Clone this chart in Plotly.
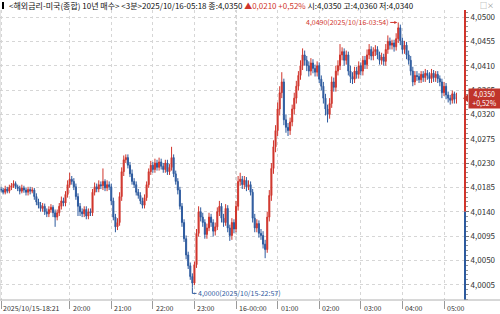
import plotly.graph_objects as go
import pandas as pd

# ---- data (3-minute bars, values in units of 0.0001 above 4.0000) ----
opens = [182,180,176,182,178,185,188,192,186,183,
         178,184,180,176,181,178,180,168,158,152,
         146,150,140,136,144,148,138,130,138,150,
         160,156,172,190,200,196,186,168,150,140,
         136,144,132,140,138,176,186,182,190,188,
         196,184,190,186,160,130,112,120,168,214,
         236,240,226,210,196,190,176,170,160,152,
         166,190,214,226,218,230,222,232,224,218,
         230,214,222,240,210,196,180,150,120,90,
         60,40,20,8,42,100,140,130,120,98,
         110,130,120,104,112,140,150,128,120,146,
         110,96,120,108,150,196,200,190,198,186,
         190,176,128,110,118,100,96,80,70,130,
         170,220,260,290,330,360,380,310,296,290,
         306,330,350,372,392,410,430,420,410,400,
         415,405,398,410,385,372,350,330,320,340,
         380,370,400,410,430,436,420,430,400,390,
         385,400,394,410,400,420,412,430,440,428,
         436,440,430,420,426,418,440,455,448,452,
         445,460,480,456,440,448,430,420,400,380,
         392,390,384,394,388,396,392,386,396,388,
         394,386,380,360,372,356,350,346,358,350]
highs = [186,184,188,186,190,193,198,196,190,188,
         190,188,184,186,186,185,184,174,164,158,
         156,155,146,150,154,152,144,144,156,168,
         166,178,198,212,206,202,192,174,156,146,
         150,150,146,146,182,194,192,198,196,220,
         200,198,196,192,166,136,128,176,222,244,
         246,246,232,218,202,196,182,176,166,172,
         196,220,234,232,238,236,240,238,230,236,
         236,228,260,246,216,202,186,156,126,96,
         66,46,26,48,108,150,148,138,126,118,
         138,136,126,120,148,160,156,136,154,152,
         116,128,126,160,206,212,206,206,204,198,
         196,182,136,126,124,108,104,88,140,180,
         230,272,300,342,372,398,386,320,304,314,
         338,360,382,400,420,442,438,428,418,424,
         422,412,418,416,392,380,358,338,350,390,
         388,410,420,450,444,442,438,436,410,398,
         408,408,418,416,428,428,440,450,446,444,
         448,446,436,434,432,450,466,462,458,458,
         470,490,486,462,456,454,438,428,408,400,
         400,396,400,400,404,402,398,404,402,400,
         400,392,386,380,378,362,356,364,362,360]
lows = [176,172,172,174,174,180,184,182,178,172,
        174,175,170,170,172,174,162,152,146,140,
        140,134,130,130,138,130,112,124,132,144,
        150,150,166,184,190,180,162,132,132,130,
        130,126,126,132,132,170,176,176,182,180,
        178,178,180,152,124,102,106,114,160,206,
        230,220,204,190,184,170,164,154,146,146,
        160,184,208,212,212,216,216,218,212,212,
        208,208,216,204,190,172,144,112,84,52,
        34,14,0,4,36,94,122,112,90,90,
        104,112,94,96,106,132,120,112,114,102,
        86,88,100,102,142,188,182,182,178,180,
        170,120,102,102,92,88,72,54,64,122,
        160,210,250,280,318,350,300,286,280,282,
        298,320,340,364,384,402,410,400,390,392,
        396,390,390,378,364,340,318,305,312,332,
        362,362,392,402,420,410,412,392,378,376,
        378,386,386,392,392,404,404,422,420,420,
        428,422,412,412,410,410,432,440,440,436,
        438,452,448,432,432,422,412,392,372,374,
        382,378,378,380,380,384,378,378,380,380,
        378,372,350,354,348,342,338,340,340,340]
closes = [180,176,182,178,185,188,192,186,183,178,
          184,180,176,181,178,180,168,158,152,146,
          150,140,136,144,148,138,130,138,150,160,
          156,172,190,200,196,186,168,150,140,136,
          144,132,140,138,176,186,182,190,188,196,
          184,190,186,160,130,112,120,168,214,236,
          240,226,210,196,190,176,170,160,152,166,
          190,214,226,218,230,222,232,224,218,230,
          214,222,240,210,196,180,150,120,90,60,
          40,20,8,42,100,140,130,120,98,110,
          130,120,104,112,140,150,128,120,146,110,
          96,120,108,150,196,200,190,198,186,190,
          176,128,110,118,100,96,80,70,130,170,
          220,260,290,330,360,380,310,296,290,306,
          330,350,372,392,410,430,420,410,400,415,
          405,398,410,385,372,350,330,320,340,380,
          370,400,410,430,436,420,430,400,390,385,
          400,394,410,400,420,412,430,440,428,436,
          440,430,420,426,418,440,455,448,452,445,
          460,480,456,440,448,430,420,400,380,392,
          390,384,394,388,396,392,386,396,388,394,
          386,380,360,372,356,350,346,358,348,350]

base_price = 4.0
pip = 0.0001
prev_close = 4.0140
start_time = "2025-10-15 18:21"
bar_freq = "3min"
ytick_values = [4.0005, 4.0050, 4.0095, 4.0140, 4.0185, 4.0230, 4.0275,
                4.0320, 4.0365, 4.0410, 4.0455, 4.0500]
x_tick_times = ["2025-10-15 18:21", "2025-10-15 20:00", "2025-10-15 21:00",
                "2025-10-15 22:00", "2025-10-15 23:00", "2025-10-16 00:00",
                "2025-10-16 01:00", "2025-10-16 02:00", "2025-10-16 03:00",
                "2025-10-16 04:00", "2025-10-16 05:00"]
x_tick_labels = ["2025/10/15-18:21", "20:00", "21:00", "22:00", "23:00",
                 "16-00:00", "01:00", "02:00", "03:00", "04:00", "05:00"]
title_name = "<해외금리-미국(종합) 10년 매수> <3분>"

n = len(closes)
assert len(opens) == n and len(highs) == n and len(lows) == n
O = [base_price + v * pip for v in opens]
H = [base_price + v * pip for v in highs]
L = [base_price + v * pip for v in lows]
C = [base_price + v * pip for v in closes]
times = pd.date_range(start_time, periods=n, freq=bar_freq)
idx = list(range(n))
time_to_idx = {t: i for i, t in enumerate(times)}

RED = "#d0352c"
BLUE = "#2d5a9e"
FONT = "Noto Sans CJK KR"

def fmt(v):
    return f"{v:.4f}".replace(".", ",")

fig = go.Figure()
fig.add_trace(go.Candlestick(
    x=idx, open=O, high=H, low=L, close=C,
    increasing=dict(line=dict(color=RED, width=1), fillcolor=RED),
    decreasing=dict(line=dict(color=BLUE, width=1), fillcolor=BLUE),
    whiskerwidth=0, showlegend=False, hoverinfo="skip"))

tick_pos = [time_to_idx[pd.Timestamp(t)] for t in x_tick_times]

y_lo, y_hi = 3.99767, 4.0513
x_lo, x_hi = -0.5, 223.1

shapes = []
mid_i = time_to_idx[pd.Timestamp("2025-10-16 00:00")]
shapes.append(dict(type="line", xref="x", yref="paper", x0=mid_i, x1=mid_i, y0=0, y1=1,
                   line=dict(color="#a8a8a8", width=1, dash="dot"), layer="below"))
shapes.append(dict(type="line", xref="paper", yref="y", x0=1, x1=1, y0=prev_close, y1=y_hi,
                   line=dict(color=RED, width=2)))
shapes.append(dict(type="line", xref="paper", yref="y", x0=1, x1=1, y0=y_lo, y1=prev_close,
                   line=dict(color=BLUE, width=2)))
shapes.append(dict(type="line", xref="paper", yref="paper", x0=0, x1=500/465, y0=0, y1=0,
                   line=dict(color="#b0b0b0", width=1)))
shapes.append(dict(type="line", xref="paper", yref="paper", x0=0, x1=0, y0=0, y1=1,
                   line=dict(color="#c8c8c8", width=1)))
shapes.append(dict(type="rect", xref="paper", yref="paper", x0=2/465, x1=4/465,
                   y0=1 + 1/290, y1=1 + 8/290, line=dict(width=0), fillcolor="#000000"))

last_price = C[-1]
change = last_price - prev_close
pct = change / prev_close * 100
tri_h = 4 / 0.5408 * pip
shapes.append(dict(type="path", xref="paper", yref="y",
                   path=f"M {1 - 2/465},{last_price} L {1 + 3/465},{last_price + tri_h} L {1 + 3/465},{last_price - tri_h} Z",
                   fillcolor="#c0342b", line=dict(width=0)))

annotations = []
for p, lab in zip(tick_pos, x_tick_labels):
    annotations.append(dict(x=p - 0.5 if p == 0 else p, y=0, xref="x", yref="paper",
                            text=lab, showarrow=False, xanchor="left", yanchor="top",
                            xshift=1, yshift=-1,
                            font=dict(size=7, color="#333333", family=FONT)))
pct_txt = f"+{pct:.2f}%".replace(".", ",")
title = (f"{title_name}{times[-1].strftime('%Y/%m/%d-%H:%M')} 종:{fmt(last_price)} "
         f"<span style='color:{RED}'>▲{fmt(change)} {pct_txt}</span>"
         f" 시:{fmt(O[-1])} 고:{fmt(H[-1])} 저:{fmt(L[-1])}")
annotations.append(dict(x=7/465, y=1, xref="paper", yref="paper", text=title, showarrow=False,
                        xanchor="left", yanchor="middle", yshift=5,
                        font=dict(size=8, color="#111111", family=FONT)))
annotations.append(dict(x=478/465, y=1, xref="paper", yref="paper", text="□×", showarrow=False,
                        xanchor="left", yanchor="middle", yshift=5,
                        font=dict(size=7, color="#888888", family=FONT)))
imax = max(range(n), key=lambda i: highs[i])
annotations.append(dict(x=imax, y=H[imax], xref="x", yref="y",
                        text=f"{fmt(H[imax])}({times[imax].strftime('%Y/%m/%d-%H:%M')})",
                        showarrow=True, ax=-51, ay=0, arrowhead=2, arrowsize=0.6, arrowwidth=1,
                        arrowcolor=RED, standoff=1,
                        font=dict(size=7, color=RED, family=FONT)))
imin = min(range(n), key=lambda i: lows[i])
annotations.append(dict(x=imin, y=L[imin], xref="x", yref="y",
                        text=f"{fmt(L[imin])}({times[imin].strftime('%Y/%m/%d-%H:%M')})",
                        showarrow=False, xanchor="left", yanchor="middle", xshift=4, yshift=-6,
                        font=dict(size=7, color=BLUE, family=FONT)))
# hook from min candle to its label
shapes.append(dict(type="path", xref="x", yref="y",
                   path=(f"M {imin},{L[imin]} L {imin},{L[imin] - 6 / 0.5408 * pip} "
                         f"L {imin + 2},{L[imin] - 6 / 0.5408 * pip}"),
                   line=dict(color=BLUE, width=1)))
annotations.append(dict(x=1, y=last_price, xref="paper", yref="y", xshift=3,
                        text=f"{fmt(last_price)}<br>{pct_txt}",
                        showarrow=False, xanchor="left", yanchor="middle", align="center",
                        bgcolor="#c0342b", borderpad=0, width=31,
                        font=dict(size=7, color="#ffffff", family=FONT)))

fig.update_layout(
    width=500, height=314,
    margin=dict(l=0, r=35, t=10, b=14),
    paper_bgcolor="white", plot_bgcolor="white",
    font=dict(family=FONT, size=8, color="#333333"),
    showlegend=False,
    shapes=shapes, annotations=annotations,
    xaxis=dict(range=[x_lo, x_hi], rangeslider=dict(visible=False),
               tickmode="array", tickvals=tick_pos, ticktext=[""] * len(tick_pos),
               ticks="outside", ticklen=8, tickcolor="#9a9a9a", tickwidth=1,
               showgrid=True, gridcolor="#d6d6d6", griddash="dot", gridwidth=1,
               zeroline=False, showline=False),
    yaxis=dict(range=[y_lo, y_hi], side="right",
               tickmode="array", tickvals=ytick_values,
               ticktext=[fmt(v) for v in ytick_values],
               ticks="outside", ticklen=3, tickcolor="#777777",
               tickfont=dict(size=8, color="#333333", family=FONT),
               minor=dict(ticks="outside", ticklen=2, tick0=4.0005, dtick=0.0009,
                          tickcolor="#999999", showgrid=False),
               showgrid=True, gridcolor="#d6d6d6", griddash="dot", gridwidth=1,
               zeroline=False, showline=False),
)

fig.write_html("out.html", config={"displayModeBar": False})
